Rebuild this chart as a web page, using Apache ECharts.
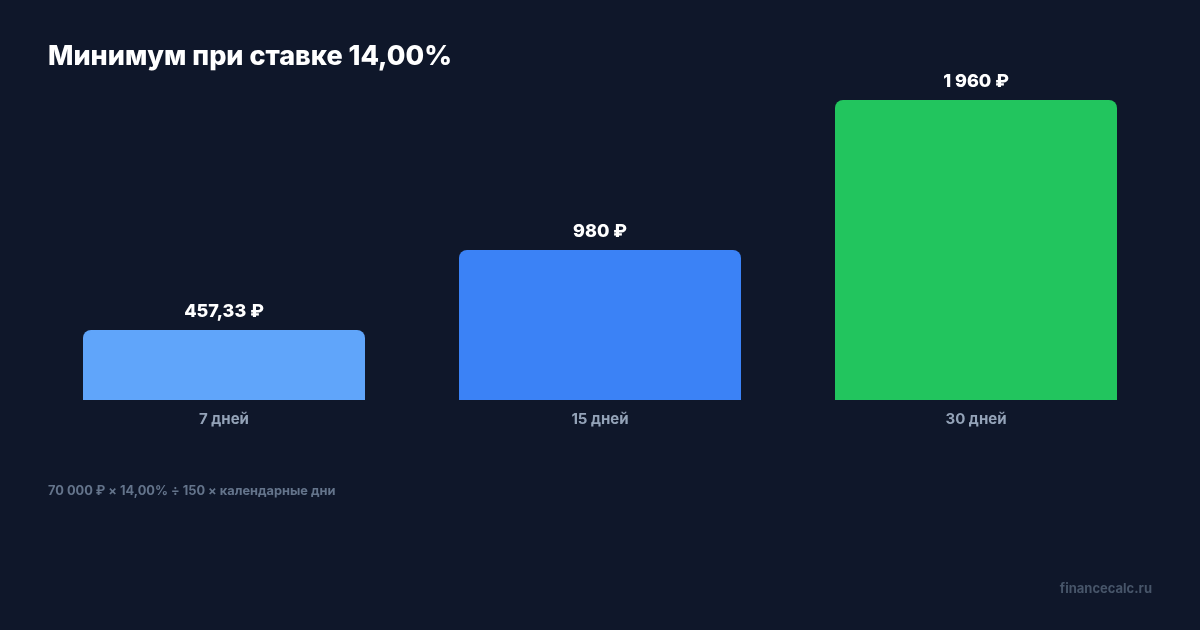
<!DOCTYPE html>
<html>
<head>
<meta charset="utf-8">
<title>Минимум при ставке 14,00%</title>
<script src="https://cdn.jsdelivr.net/npm/echarts@6/dist/echarts.min.js"></script>
<style>
  html, body { margin: 0; padding: 0; background: #0f172a; }
  #chart { width: 1200px; height: 630px; }
</style>
</head>
<body>
<div id="chart"></div>
<script>
// данные
var categories = ['7 дней', '15 дней', '30 дней'];
var values = [457.33, 980, 1960];
var valueLabels = ['457,33 ₽', '980 ₽', '1 960 ₽'];
var barColors = ['#60a5fa', '#3b82f6', '#22c55e'];

var chart = echarts.init(document.getElementById('chart'));

chart.setOption({
    backgroundColor: '#0f172a',
    textStyle: { fontFamily: 'Inter' },
    title: [{
        text: 'Минимум при ставке 14,00%',
        left: 48,
        top: 43,
        padding: 0,
        textStyle: { color: '#ffffff', fontSize: 27, fontWeight: 800, fontFamily: 'Inter' }
    }],
    graphic: [{
        type: 'text',
        left: 48,
        top: 485,
        style: {
            text: '70 000 ₽ × 14,00% ÷ 150 × календарные дни',
            fill: '#64748b',
            font: 'bold 12.8px Inter'
        }
    }, {
        type: 'text',
        right: 48,
        top: 583,
        style: {
            text: 'financecalc.ru',
            fill: '#475569',
            font: 'bold 13px Inter'
        }
    }],
    grid: {
        left: 36,
        right: 36,
        top: 100,
        bottom: 230,
        containLabel: false
    },
    xAxis: {
        type: 'category',
        data: categories,
        axisLine: { show: false },
        axisTick: { show: false },
        axisLabel: {
            color: '#94a3b8',
            fontSize: 15,
            fontWeight: 'bold',
            margin: 12
        }
    },
    yAxis: {
        type: 'value',
        min: 0,
        max: 1960,
        show: false,
        splitLine: { show: false }
    },
    series: [{
        type: 'bar',
        barWidth: '75%',
        data: values.map(function (v, i) {
            return {
                value: v,
                itemStyle: { color: barColors[i], borderRadius: [8, 8, 0, 0] }
            };
        }),
        label: {
            show: true,
            position: 'top',
            distance: 9,
            color: '#ffffff',
            fontSize: 18,
            fontWeight: 800,
            formatter: function (p) { return valueLabels[p.dataIndex]; }
        }
    }]
});
</script>
</body>
</html>
